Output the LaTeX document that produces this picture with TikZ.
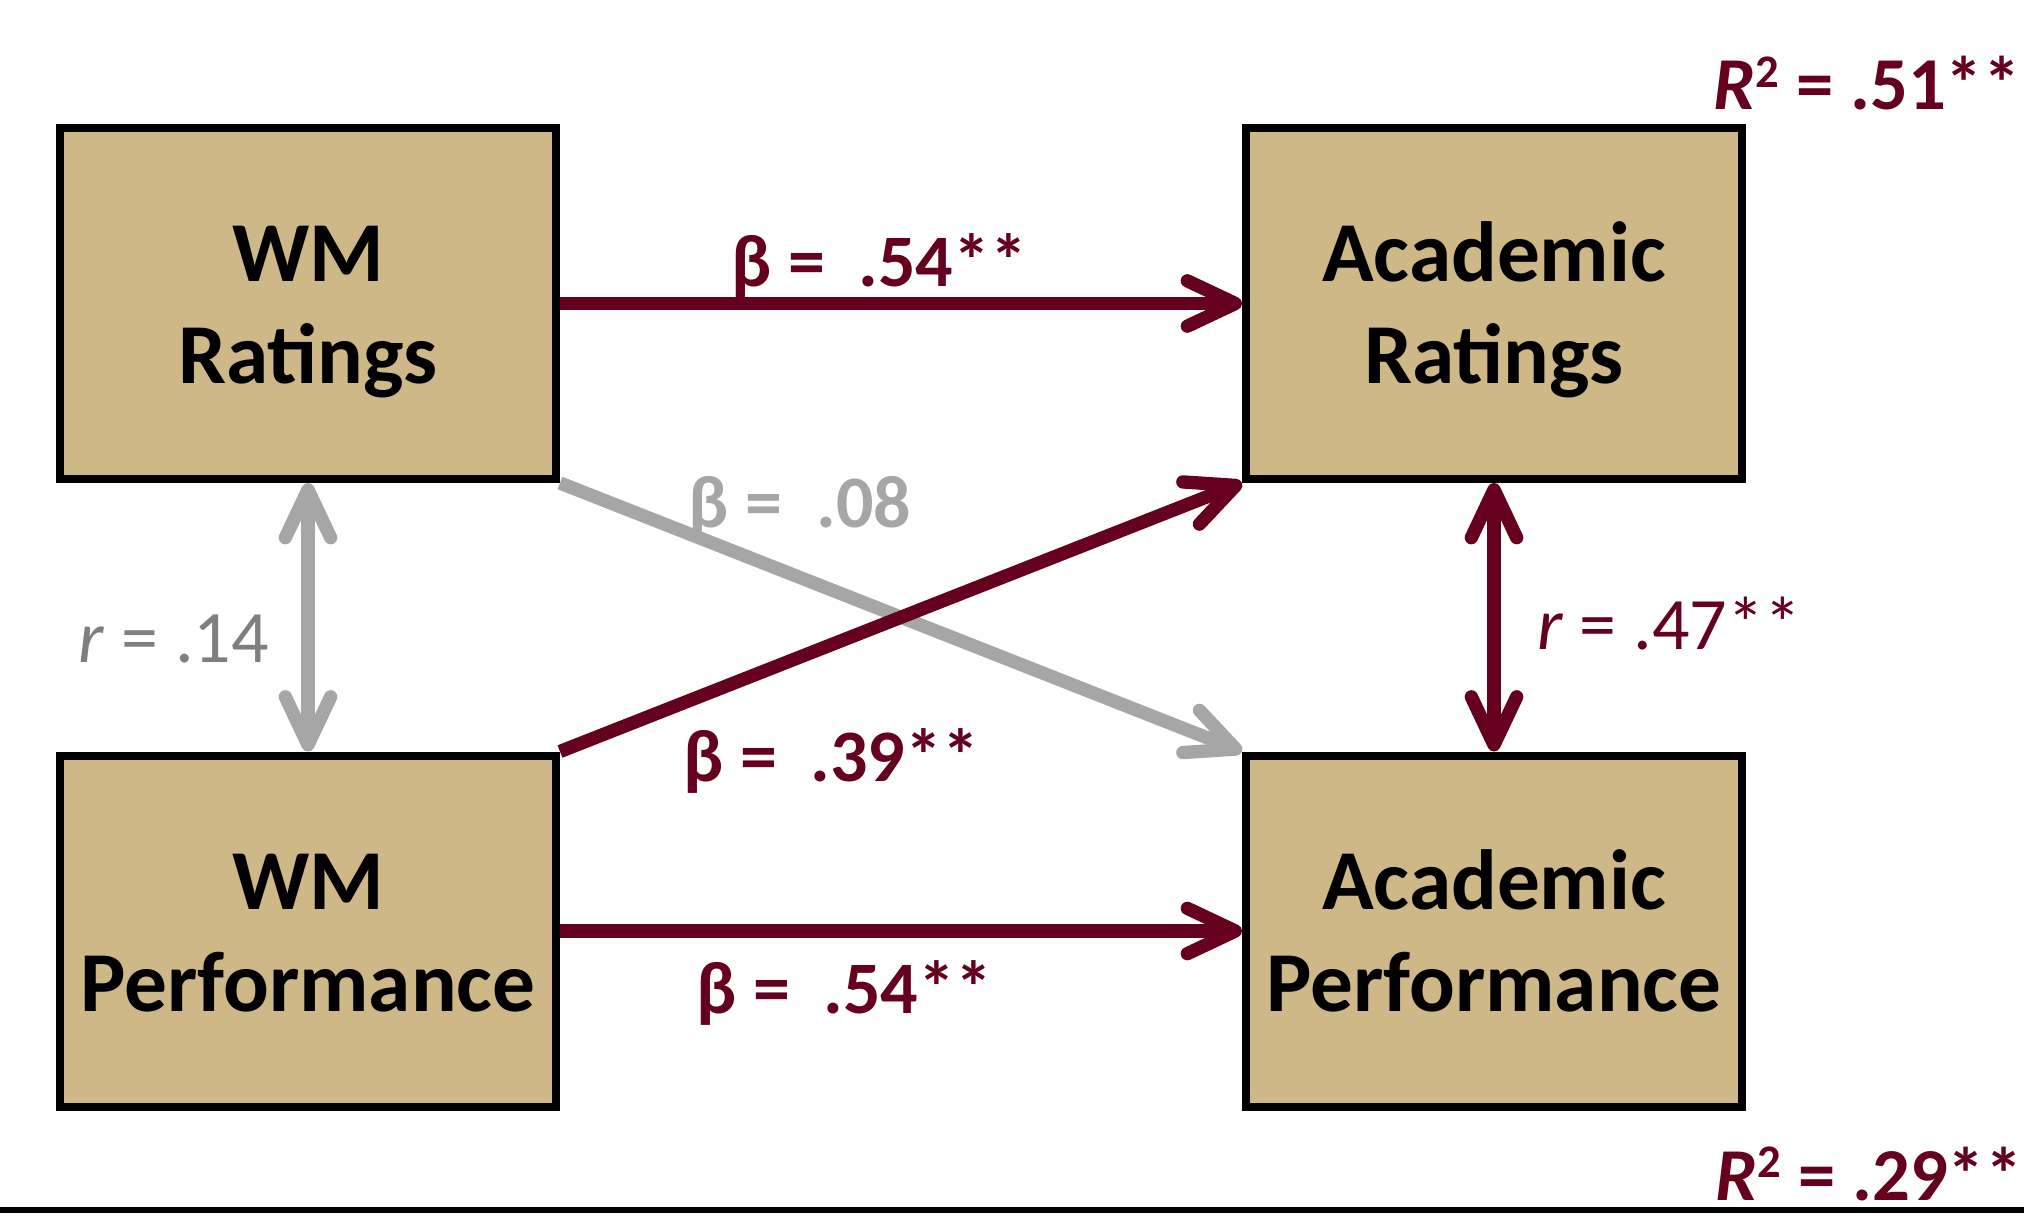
\documentclass[tikz,border=0pt]{standalone}
\usepackage{fontspec}
\setmainfont{Carlito}
\usetikzlibrary{arrows.meta}
\definecolor{garnet}{RGB}{101,0,30}
\definecolor{boxtan}{RGB}{207,184,135}
\definecolor{pathgray}{RGB}{166,166,166}
\definecolor{textgray}{RGB}{127,127,127}
\tikzset{chev/.tip={Straight Barb[length=36pt,width=34pt,round]}}
% fixed line heights so every box sets its two lines alike
\newcommand{\tpline}{\rule{0pt}{63.5pt}}
\newcommand{\btline}{\rule[-20pt]{0pt}{0pt}}
\newcommand{\sqsup}{\raisebox{17pt}{\fontsize{35}{35}\selectfont 2}}
\begin{document}
\begin{tikzpicture}[x=0.75pt,y=-0.75pt,
  varbox/.style={draw=black, line width=6pt, fill=boxtan, inner sep=0pt,
    minimum width=372pt, minimum height=263.25pt, align=center,
    font=\fontsize{64}{76.5}\selectfont\bfseries},
  strongpath/.style={draw=garnet, line width=10pt},
  weakpath/.style={draw=pathgray, line width=10pt},
  coef/.style={anchor=base, inner sep=0pt, font=\fontsize{55.5}{66}\selectfont\bfseries},
  corr/.style={anchor=base, inner sep=0pt, font=\fontsize{55.5}{66}\selectfont},
  rsq/.style={anchor=base, inner sep=0pt, text=garnet, font=\fontsize{56}{66}\selectfont\bfseries}
]
\useasboundingbox (0,0) rectangle (2024,1219);

% variables
\node[varbox] (wmr) at (308,303.5) {\tpline WM\\Ratings\btline};
\node[varbox] (wmp) at (308,931) {\tpline WM\\Performance\btline};
\node[varbox] (acr) at (1494,303.5) {\tpline Academic\\Ratings\btline};
\node[varbox] (acp) at (1494,931) {\tpline Academic\\Performance\btline};

% paths
\draw[weakpath, -{chev}] (wmr.south east) -- (acp.north west);
\draw[strongpath, -{chev}] (wmp.north east) -- (acr.south west);
\draw[strongpath, -{chev}] (wmr.east) -- (acr.west);
\draw[strongpath, -{chev}] (wmp.east) -- (acp.west);

% correlations
\draw[weakpath, {chev}-{chev}] (wmr.south) -- (wmp.north);
\draw[strongpath, {chev}-{chev}] (acr.south) -- (acp.north);

% coefficients
\node[coef, text=garnet] (b1) at (879,287) {β =\ \ .54**};
\node[coef, text=pathgray] (b2) at (800,527) {β =\ \ .08};
\node[coef, text=garnet] (b3) at (831,781) {β =\ \ .39**};
\node[coef, text=garnet] (b4) at (844,1013) {β =\ \ .54**};
\node[corr, text=textgray] (r1) at (174,662) {\textit{r} = .14};
\node[corr, text=garnet] (r2) at (1669,649) {\textit{r} = .47**};
\node[rsq] (rs1) at (1867,110) {\textit{R}\sqsup{} = .51**};
\node[rsq] (rs2) at (1869,1200) {\textit{R}\sqsup{} = .29**};

% rule along the foot
\coordinate (rulestart) at (0,1210);
\coordinate (ruleend) at (2024,1210);
\draw[black, line width=4.5pt] (rulestart) -- (ruleend);
\end{tikzpicture}
\end{document}
